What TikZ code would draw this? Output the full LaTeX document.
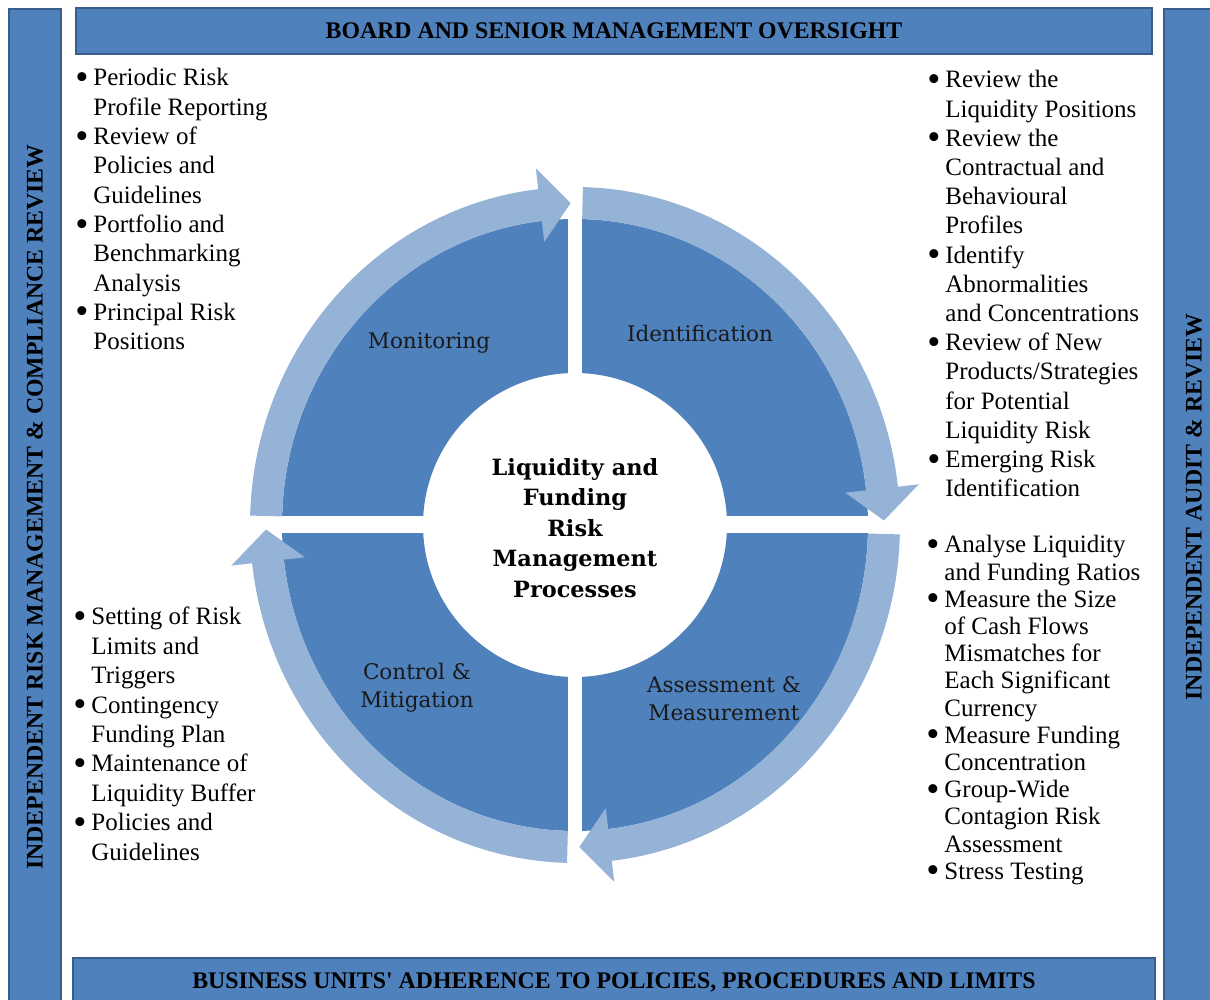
\documentclass[tikz,border=0pt]{standalone}
\usepackage{fontspec}
\setmainfont{Liberation Serif}
\newfontfamily\labelfont{DejaVu Serif}
\definecolor{darkblue}{HTML}{4F81BD}
\definecolor{lightblue}{HTML}{95B3D7}
\definecolor{barborder}{HTML}{385D8A}
\newcommand{\cycarrow}[3]{%
  \fill[lightblue] (#1:325 and 338) arc[start angle=#1, end angle=#2, x radius=325, y radius=338]
    -- (#2:346 and 359) -- (#3:309 and 322) -- (#2:272 and 285) -- (#2:293 and 306)
    arc[start angle=#2, end angle=#1, x radius=293, y radius=306] -- cycle;}
\newcommand{\bul}{\makebox[4.5pt][c]{\raisebox{-1.8pt}{\scalebox{1.5}{•}}}}
\begin{document}
\begin{tikzpicture}[x=0.5pt, y=0.5pt,
  bar/.style={fill=darkblue, draw=barborder, line width=0.7pt, inner sep=0pt, text=black,
     font=\fontsize{11.9}{14}\selectfont\bfseries},
  qlabel/.style={font=\labelfont\fontsize{10.75}{14}\selectfont, align=center, text=black!90, inner sep=0pt},
  ctext/.style={font=\labelfont\bfseries\fontsize{11.2}{15.25}\selectfont, align=center, inner sep=0pt},
  blist/.style={anchor=base west, inner sep=0pt}]
\useasboundingbox (0,0) rectangle (1210,1000);
\fill[white] (0,0) rectangle (1210,1000);

% frame bars
\node[bar, minimum width=538pt, minimum height=23pt] (top) at (614,969) {BOARD AND SENIOR MANAGEMENT OVERSIGHT};
\node[bar, minimum width=541pt, minimum height=24pt] (bottom) at (614,18) {BUSINESS UNITS\textquotesingle{} ADHERENCE TO POLICIES, PROCEDURES AND LIMITS};
\node[bar, rotate=90, minimum width=498pt, minimum height=26pt] (left) at (35,493) {INDEPENDENT RISK MANAGEMENT \& COMPLIANCE REVIEW};
\node[bar, rotate=90, minimum width=498pt, minimum height=30pt] (right) at (1194,493) {INDEPENDENT AUDIT \& REVIEW};

% cycle
\begin{scope}[shift={(575,475)}]
  \fill[darkblue, even odd rule] (0,0) ellipse[x radius=293, y radius=306] (0,0) circle[radius=152];
  \fill[white] (-7,-330) rectangle (7,330);
  \fill[white] (-310,-8.5) rectangle (310,8.5);
  \cycarrow{178.4}{96.5}{90.8}
  \cycarrow{88.6}{6.5}{0.8}
  \cycarrow{358.4}{276.5}{270.8}
  \cycarrow{268.6}{186.5}{180.8}
\end{scope}

\node[qlabel] (mon) at (429,657) {Monitoring};
\node[qlabel] (ident) at (700,667) {Identification};
\node[qlabel] (ctrl) at (417,312) {Control \&\\Mitigation};
\node[qlabel] (assess) at (724,301) {Assessment \&\\Measurement};
\node[ctext] (center) at (575,472) {Liquidity and\\Funding\\Risk\\Management\\Processes};

% bullet lists
\node[blist, font=\fontsize{12.5}{14.65}\selectfont] (tl) at (77,914) {\begin{tabular}[t]{@{}l@{\hspace{3.5pt}}l@{}}
\bul & Periodic Risk\\ & Profile Reporting\\
\bul & Review of\\ & Policies and\\ & Guidelines\\
\bul & Portfolio and\\ & Benchmarking\\ & Analysis\\
\bul & Principal Risk\\ & Positions
\end{tabular}};
\node[blist, font=\fontsize{12.5}{14.6}\selectfont] (tr) at (929,912) {\begin{tabular}[t]{@{}l@{\hspace{3.5pt}}l@{}}
\bul & Review the\\ & Liquidity Positions\\
\bul & Review the\\ & Contractual and\\ & Behavioural\\ & Profiles\\
\bul & Identify\\ & Abnormalities\\ & and Concentrations\\
\bul & Review of New\\ & Products/Strategies\\ & for Potential\\ & Liquidity Risk\\
\bul & Emerging Risk\\ & Identification
\end{tabular}};
\node[blist, font=\fontsize{12.5}{13.6}\selectfont] (br) at (928,447) {\begin{tabular}[t]{@{}l@{\hspace{3.5pt}}l@{}}
\bul & Analyse Liquidity\\ & and Funding Ratios\\
\bul & Measure the Size\\ & of Cash Flows\\ & Mismatches for\\ & Each Significant\\ & Currency\\
\bul & Measure Funding\\ & Concentration\\
\bul & Group-Wide\\ & Contagion Risk\\ & Assessment\\
\bul & Stress Testing
\end{tabular}};
\node[blist, font=\fontsize{12.5}{14.7}\selectfont] (bl) at (75,375) {\begin{tabular}[t]{@{}l@{\hspace{3.5pt}}l@{}}
\bul & Setting of Risk\\ & Limits and\\ & Triggers\\
\bul & Contingency\\ & Funding Plan\\
\bul & Maintenance of\\ & Liquidity Buffer\\
\bul & Policies and\\ & Guidelines
\end{tabular}};
\end{tikzpicture}
\end{document}
